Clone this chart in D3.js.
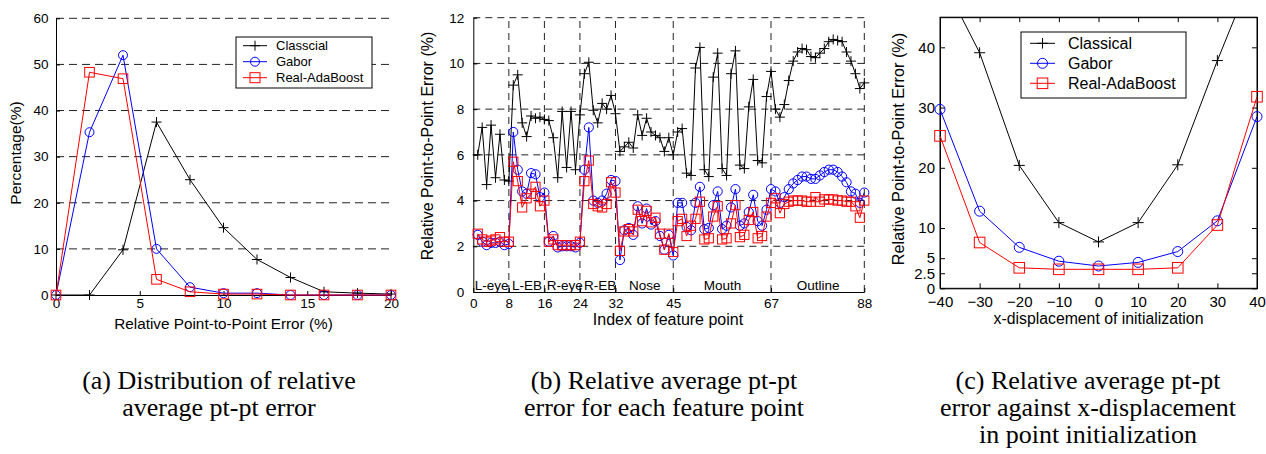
<!DOCTYPE html>
<html><head><meta charset="utf-8">
<script src="https://cdn.jsdelivr.net/npm/d3@7/dist/d3.min.js"></script>
<style>body{margin:0;background:#fff}svg{display:block}</style>
</head><body>
<svg id="c" width="1266" height="454"></svg>
<script>
// ---------- Panel (a) data ----------
const distX = [0, 2, 4, 6, 8, 10, 12, 14, 16, 18, 20];
const distClassical = [0, 0, 9.8, 37.5, 25, 14.6, 7.7, 3.8, 0.7, 0.4, 0.2];
const distGabor = [0, 35.3, 52, 10, 1.7, 0.4, 0.4, 0, 0, 0, 0];
const distReal = [0, 48.3, 46.9, 3.4, 0.7, 0.2, 0.2, 0, 0, 0, 0];
const distXTicks = [0, 5, 10, 15, 20];
const distYTicks = [0, 10, 20, 30, 40, 50, 60];
const distLegend = ["Classcial", "Gabor", "Real-AdaBoost"];

// ---------- Panel (b) data ----------
const featIdx = d3.range(1, 89);
const featClassical = [6.0,7.2,4.7,7.3,5.0,6.9,4.9,4.85,9.05,9.5,7.4,6.8,7.7,7.6,7.65,7.55,
  7.5,6.75,5.0,7.9,5.45,7.9,5.35,7.75,9.55,10.05,7.95,7.4,8.25,8.0,8.6,7.8,
  6.15,6.35,6.55,6.3,7.75,6.85,7.6,7.0,6.85,6.75,6.15,6.75,6.0,
  7.0,7.15,5.2,5.1,9.8,10.7,5.35,5.05,9.4,10.45,5.4,5.1,9.55,10.55,5.55,5.4,8.1,9.3,5.75,5.65,8.55,9.65,
  8.0,7.65,8.2,9.25,10.1,10.5,10.65,10.6,10.3,10.25,10.45,10.65,10.95,11.05,11.0,10.95,10.5,10.1,9.55,8.9,9.15];
const featGabor = [2.5,2.2,2.05,2.15,2.15,2.2,2.05,2.1,7.0,5.35,4.4,4.3,5.2,5.15,4.15,4.35,
  2.2,2.45,1.95,2.0,2.0,2.0,1.95,2.15,5.35,7.2,4.0,3.9,4.0,4.3,4.9,4.85,
  1.4,2.7,2.8,2.5,3.75,3.0,3.65,2.95,3.1,2.45,1.85,2.5,1.6,
  3.9,3.9,2.85,2.7,3.9,4.6,2.75,2.8,3.8,4.4,2.75,2.9,3.7,4.5,2.9,3.0,3.5,4.25,3.1,2.9,3.6,4.5,
  4.4,3.9,4.15,4.5,4.75,4.9,5.05,5.05,4.95,4.95,5.1,5.25,5.35,5.35,5.25,5.05,4.8,4.4,4.3,3.9,4.35];
const featReal = [2.55,2.3,2.2,2.25,2.3,2.4,2.2,2.2,5.7,4.85,3.7,4.1,4.3,4.6,3.75,4.0,
  2.2,2.3,2.05,2.05,2.05,2.05,2.05,2.2,4.85,5.75,3.85,3.75,3.7,3.85,4.8,4.35,
  1.8,2.65,2.75,2.65,3.6,3.1,3.55,3.05,3.25,2.55,1.85,2.55,1.75,
  3.1,3.2,2.45,2.9,3.2,3.95,2.3,2.35,3.3,3.75,2.3,2.35,3.0,3.8,2.4,2.5,3.15,3.5,2.35,2.45,3.3,3.9,
  4.1,3.45,3.85,3.95,4.0,4.0,4.0,3.95,3.95,4.15,3.95,4.05,4.05,4.05,4.0,4.0,3.95,3.95,3.75,3.25,4.0];
const featXTicks = [0, 8, 16, 24, 32, 45, 67, 88];
const featYTicks = [0, 2, 4, 6, 8, 10, 12];
const featSections = ["L-eye", "L-EB", "R-eye", "R-EB", "Nose", "Mouth", "Outline"];

// ---------- Panel (c) data ----------
const dispX = [-40, -30, -20, -10, 0, 10, 20, 30, 40];
const dispClassical = [52, 39.1, 20.4, 10.9, 7.7, 10.9, 20.5, 37.8, 54];
const dispGabor = [29.7, 12.8, 6.8, 4.5, 3.7, 4.3, 6.1, 11.2, 28.5];
const dispReal = [25.3, 7.6, 3.4, 3.15, 3.15, 3.15, 3.4, 10.5, 31.8];
const dispXTicks = [-40, -30, -20, -10, 0, 10, 20, 30, 40];
const dispYTicks = [0, 2.5, 5, 10, 20, 30, 40];
const dispLegend = ["Classical", "Gabor", "Real-AdaBoost"];

const captions = [
  {cx: 219, lines: ["(a) Distribution of relative", "average pt-pt error"]},
  {cx: 664, lines: ["(b) Relative average pt-pt", "error for each feature point"]},
  {cx: 1088, lines: ["(c) Relative average pt-pt", "error against x-displacement", "in point initialization"]}
];

const SANS = "'Liberation Sans', Arial, sans-serif";
const SERIF = "'Liberation Serif', 'Times New Roman', serif";
const colors = ["#000000", "#0000ff", "#ff0000"];
const svg = d3.select("#c");

function marker(g, type, x, y, s, color) {
  if (type === 0) {
    g.append("path").attr("d", `M${x - s},${y}H${x + s}M${x},${y - s}V${y + s}`)
      .attr("stroke", color).attr("stroke-width", 1).attr("fill", "none");
  } else if (type === 1) {
    g.append("circle").attr("cx", x).attr("cy", y).attr("r", s)
      .attr("stroke", color).attr("stroke-width", 1).attr("fill", "none");
  } else {
    g.append("rect").attr("x", x - s).attr("y", y - s).attr("width", 2 * s).attr("height", 2 * s)
      .attr("stroke", color).attr("stroke-width", 1).attr("fill", "none");
  }
}

function series(g, xs, ys, x, y, type, color, s) {
  const pts = xs.map((d, i) => [x(d), y(ys[i])]);
  g.append("path").attr("d", d3.line()(pts)).attr("fill", "none")
    .attr("stroke", color).attr("stroke-width", 1);
  const mg = g.append("g");
  pts.forEach(p => marker(mg, type, p[0], p[1], s, color));
}

function styleAxis(ax, fs) {
  ax.selectAll("text").attr("font-family", SANS).attr("font-size", fs).attr("fill", "#000");
  ax.selectAll("line").attr("stroke", "#000");
  ax.select(".domain").attr("stroke", "#000");
}

// ================= Panel (a) =================
{
  const x = d3.scaleLinear().domain([0, 20]).range([56, 391]);
  const y = d3.scaleLinear().domain([0, 60]).range([295, 18.3]);
  const g = svg.append("g");
  g.selectAll(".gy").data(distYTicks.filter(d => d > 0)).join("line")
    .attr("x1", x(0)).attr("x2", x(20)).attr("y1", d => y(d)).attr("y2", d => y(d))
    .attr("stroke", "#222").attr("stroke-dasharray", "8,5");
  const ax = g.append("g").attr("transform", `translate(0,${y(0)})`)
    .call(d3.axisBottom(x).tickValues(distXTicks).tickSize(-4).tickSizeOuter(0).tickPadding(3.5));
  styleAxis(ax, 13.5);
  const ay = g.append("g").attr("transform", `translate(${x(0)},0)`)
    .call(d3.axisLeft(y).tickValues(distYTicks).tickSize(-4).tickSizeOuter(0).tickPadding(7.5));
  styleAxis(ay, 13.5);
  g.append("text").attr("x", (x(0) + x(20)) / 2).attr("y", 329).attr("text-anchor", "middle")
    .attr("font-family", SANS).attr("font-size", 15.3).text("Relative Point-to-Point Error (%)");
  g.append("text").attr("transform", `translate(21,153) rotate(-90)`).attr("text-anchor", "middle")
    .attr("font-family", SANS).attr("font-size", 15.5).text("Percentage(%)");
  series(g, distX, distClassical, x, y, 0, colors[0], 5);
  series(g, distX, distGabor, x, y, 1, colors[1], 4.5);
  series(g, distX, distReal, x, y, 2, colors[2], 4.8);
  const lg = g.append("g");
  lg.append("rect").attr("x", 236).attr("y", 37).attr("width", 136).attr("height", 51)
    .attr("fill", "#fff").attr("stroke", "#000");
  distLegend.forEach((t, i) => {
    const ly = 45.7 + i * 16;
    lg.append("line").attr("x1", 243).attr("x2", 267).attr("y1", ly).attr("y2", ly).attr("stroke", colors[i]);
    marker(lg, i, 255, ly, i === 1 ? 4.5 : 5, colors[i]);
    lg.append("text").attr("x", 276).attr("y", ly + 4.6).attr("font-family", SANS)
      .attr("font-size", 13).text(t);
  });
}

// ================= Panel (b) =================
{
  const x = d3.scaleLinear().domain([0, 88]).range([473.3, 864.3]);
  const y = d3.scaleLinear().domain([0, 12]).range([292, 17.7]);
  const g = svg.append("g");
  g.selectAll(".gy").data(featYTicks.filter(d => d > 0)).join("line")
    .attr("x1", x(0)).attr("x2", x(88)).attr("y1", d => y(d)).attr("y2", d => y(d))
    .attr("stroke", "#222").attr("stroke-dasharray", "7,5");
  g.selectAll(".gx").data(featXTicks.filter(d => d > 0)).join("line")
    .attr("x1", d => x(d)).attr("x2", d => x(d)).attr("y1", y(0)).attr("y2", y(12))
    .attr("stroke", "#222").attr("stroke-dasharray", "7,5");
  const ax = g.append("g").attr("transform", `translate(0,${y(0)})`)
    .call(d3.axisBottom(x).tickValues(featXTicks).tickSize(-4).tickSizeOuter(0).tickPadding(6.3));
  styleAxis(ax, 13.5);
  const ay = g.append("g").attr("transform", `translate(${x(0)},0)`)
    .call(d3.axisLeft(y).tickValues(featYTicks).tickSize(-4).tickSizeOuter(0).tickPadding(9));
  styleAxis(ay, 13.5);
  featSections.forEach((s, i) => {
    g.append("text").attr("x", (x(featXTicks[i]) + x(featXTicks[i + 1])) / 2 + (i === 2 || i === 3 ? 2.5 : 0.5))
      .attr("y", 289.5)
      .attr("text-anchor", "middle").attr("font-family", SANS).attr("font-size", 13.5).text(s);
  });
  g.append("text").attr("x", 668).attr("y", 325).attr("text-anchor", "middle")
    .attr("font-family", SANS).attr("font-size", 16).text("Index of feature point");
  g.append("text").attr("transform", `translate(433,146) rotate(-90)`).attr("text-anchor", "middle")
    .attr("font-family", SANS).attr("font-size", 16).text("Relative Point-to-Point Error (%)");
  series(g, featIdx, featClassical, x, y, 0, colors[0], 5);
  series(g, featIdx, featGabor, x, y, 1, colors[1], 4.6);
  series(g, featIdx, featReal, x, y, 2, colors[2], 4.6);
}

// ================= Panel (c) =================
{
  const x = d3.scaleLinear().domain([-40, 40]).range([940, 1257]);
  const y = d3.scaleLinear().domain([0, 45]).range([288.3, 17.2]);
  const g = svg.append("g");
  svg.append("defs").append("clipPath").attr("id", "clipc").append("rect")
    .attr("x", x(-40) - 8).attr("y", y(45)).attr("width", x(40) - x(-40) + 16).attr("height", y(0) - y(45) + 8);
  g.append("rect").attr("x", x(-40)).attr("y", y(45)).attr("width", x(40) - x(-40)).attr("height", y(0) - y(45))
    .attr("fill", "none").attr("stroke", "#000");
  const ax = g.append("g").attr("transform", `translate(0,${y(0)})`)
    .call(d3.axisBottom(x).tickValues(dispXTicks).tickSize(-5).tickSizeOuter(0).tickPadding(7.7));
  styleAxis(ax, 15);
  const axt = g.append("g").attr("transform", `translate(0,${y(45)})`)
    .call(d3.axisTop(x).tickValues(dispXTicks).tickSize(-5).tickSizeOuter(0).tickFormat(""));
  styleAxis(axt, 15);
  const ay = g.append("g").attr("transform", `translate(${x(-40)},0)`)
    .call(d3.axisLeft(y).tickValues(dispYTicks).tickSize(-5).tickSizeOuter(0).tickPadding(5).tickFormat(d3.format("")));
  styleAxis(ay, 15);
  const ayr = g.append("g").attr("transform", `translate(${x(40)},0)`)
    .call(d3.axisRight(y).tickValues(dispYTicks).tickSize(-5).tickSizeOuter(0).tickFormat(""));
  styleAxis(ayr, 15);
  g.append("text").attr("x", (x(-40) + x(40)) / 2).attr("y", 324).attr("text-anchor", "middle")
    .attr("font-family", SANS).attr("font-size", 15.8).text("x-displacement of initialization");
  g.append("text").attr("transform", `translate(904,149) rotate(-90)`).attr("text-anchor", "middle")
    .attr("font-family", SANS).attr("font-size", 16.3).text("Relative Point-to-Point Error (%)");
  const pg = g.append("g").attr("clip-path", "url(#clipc)");
  series(pg, dispX, dispClassical, x, y, 0, colors[0], 5.5);
  series(pg, dispX, dispGabor, x, y, 1, colors[1], 5);
  series(pg, dispX, dispReal, x, y, 2, colors[2], 5.3);
  const lg = g.append("g");
  lg.append("rect").attr("x", 1021).attr("y", 32).attr("width", 165).attr("height", 66)
    .attr("fill", "#fff").attr("stroke", "#000");
  dispLegend.forEach((t, i) => {
    const ly = 43.3 + i * 20;
    lg.append("line").attr("x1", 1030).attr("x2", 1055).attr("y1", ly).attr("y2", ly).attr("stroke", colors[i]);
    marker(lg, i, 1042.5, ly, i === 1 ? 5 : 5.3, colors[i]);
    lg.append("text").attr("x", 1068).attr("y", ly + 5.6).attr("font-family", SANS)
      .attr("font-size", 16).text(t);
  });
}

// ================= Captions =================
captions.forEach(c => {
  c.lines.forEach((l, i) => {
    svg.append("text").attr("x", c.cx).attr("y", 389 + i * 27).attr("text-anchor", "middle")
      .attr("font-family", SERIF).attr("font-size", 26).text(l);
  });
});
</script>
</body></html>
